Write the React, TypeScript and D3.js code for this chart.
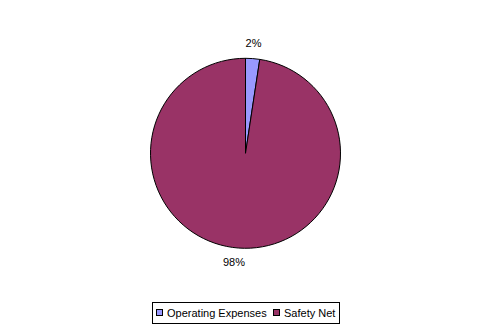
import React from "react";
import * as d3 from "d3";

const categories = ["Operating Expenses", "Safety Net"];
const values = [2.4, 97.6];
const labels = ["2%", "98%"];
const colors = ["#9999FF", "#993366"];

export default function App() {
  const W = 491, H = 333;
  const cx = 245.5, cy = 153.3, r = 95;
  const pie = d3.pie<number>().sort(null).value((d) => d)(values);
  const arc = d3.arc<d3.PieArcDatum<number>>().innerRadius(0).outerRadius(r);
  const labelArc = d3.arc<d3.PieArcDatum<number>>().innerRadius(r + 18).outerRadius(r + 18);
  return (
    <svg width={W} height={H} style={{ position: "absolute", left: 0, top: 0, fontFamily: "Arial, 'Liberation Sans', sans-serif" }}>
      <rect width={W} height={H} fill="#fff" />
      <g transform={`translate(${cx},${cy})`}>
        {pie.map((p, i) => (
          <path key={i} d={arc(p) || ""} fill={colors[i]} stroke="#000" strokeWidth={1} />
        ))}
        {pie.map((p, i) => {
          const [x, y] = labelArc.centroid(p);
          return (
            <text key={i} x={i === 0 ? x - 0.5 : x - 3} y={i === 0 ? y + 6 : y} textAnchor="middle" fontSize={11} fill="#000">
              {labels[i]}
            </text>
          );
        })}
      </g>
      <rect x={152.5} y={302.5} width={187} height={21} fill="#fff" stroke="#000" strokeWidth={1} />
      {categories.map((c, i) => {
        const x0 = i === 0 ? 156 : 273;
        return (
          <g key={c}>
            <rect x={x0 + 0.5} y={309.5} width={6} height={6} fill={colors[i]} stroke="#000" strokeWidth={1} />
            <text x={x0 + 11} y={317} fontSize={11} fill="#000">{c}</text>
          </g>
        );
      })}
    </svg>
  );
}
